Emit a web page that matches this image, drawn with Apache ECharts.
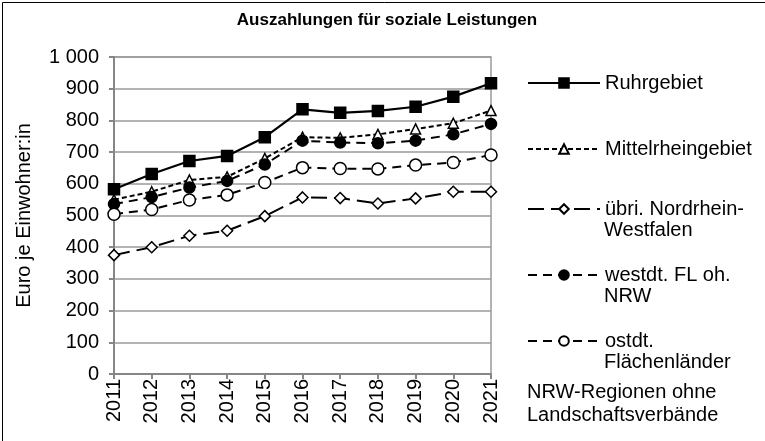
<!DOCTYPE html>
<html><head><meta charset="utf-8">
<script src="https://cdn.jsdelivr.net/npm/echarts@6/dist/echarts.min.js"></script>
<style>html,body{margin:0;padding:0;background:#fff}#c{width:765px;height:441px}</style>
</head><body><div id="c"></div>
<script>
const years = ['2011','2012','2013','2014','2015','2016','2017','2018','2019','2020','2021'];
const ruhr = [583, 631, 672, 688, 747, 835, 824, 830, 843, 875, 917];
const mittel = [550, 575, 612, 622, 680, 747, 745, 756, 773, 791, 831];
const uebri = [375, 400, 436, 452, 498, 557, 555, 538, 554, 575, 575];
const westdt = [536, 558, 588, 609, 661, 736, 730, 728, 736, 756, 789];
const ostdt = [504, 519, 549, 565, 604, 651, 648, 647, 659, 667, 691];
const names = ['Ruhrgebiet','Mittelrheingebiet','übri. Nordrhein-Westfalen','westdt. FL oh. NRW','ostdt. Flächenländer'];
const legendFirst = ['Ruhrgebiet','Mittelrheingebiet','übri. Nordrhein-','westdt. FL oh.','ostdt.'];
const legendSecond = ['', '', 'Westfalen', 'NRW', 'Flächenländer'];
const noteLines = 'NRW-Regionen ohne\nLandschaftsverbände';
const FONT = 'Liberation Sans, Arial, sans-serif';
const FS = 20;

const chart = echarts.init(document.getElementById('c'));
const mk = (name, data, lineType, lw, sym, size, fill) => ({
  name, type: 'line', data,
  lineStyle: {color: '#000', width: lw, type: lineType},
  symbol: sym, symbolSize: size,
  itemStyle: {color: fill, borderColor: '#000', borderWidth: 1.5},
  showAllSymbol: true, animation: false
});
const legendCenters = [83, 149, 209, 275, 341];
const graphics = [];
legendSecond.forEach((t, i) => {
  if (t) graphics.push({type: 'text', left: 604, top: legendCenters[i] + 22 - 11,
    style: {text: t, font: FS + 'px ' + FONT, fill: '#000'}});
});
graphics.push({type: 'text', left: 527, top: 381, style: {text: noteLines, font: FS + 'px ' + FONT, fill: '#000', lineHeight: 23}});
graphics.push({type: 'rect', left: 0, top: 0, shape: {width: 764, height: 440}, style: {fill: 'none', stroke: '#000', lineWidth: 1}, silent: true});

chart.setOption({
  animation: false,
  title: {text: 'Auszahlungen für soziale Leistungen', left: 382, textAlign: 'center', top: 7,
    textStyle: {fontFamily: FONT, fontSize: 17, fontWeight: 'bold', color: '#000'}},
  grid: {left: 114, right: 274, top: 57, bottom: 67, show: true, borderColor: '#9a9a9a', borderWidth: 1.5},
  xAxis: {type: 'category', data: years, boundaryGap: false,
    axisLine: {lineStyle: {color: '#868686', width: 2}},
    axisTick: {show: true, alignWithLabel: true, length: 5, lineStyle: {color: '#868686', width: 2}},
    axisLabel: {rotate: 90, color: '#000', fontFamily: FONT, fontSize: FS, margin: 5, interval: 0}},
  yAxis: {type: 'value', min: 0, max: 1000, interval: 100,
    name: 'Euro je Einwohner:in', nameLocation: 'middle', nameGap: 80,
    nameTextStyle: {fontFamily: FONT, fontSize: FS, color: '#000'},
    axisLine: {show: true, lineStyle: {color: '#868686', width: 2}},
    axisTick: {show: true, length: 5, lineStyle: {color: '#868686', width: 2}},
    splitLine: {lineStyle: {color: '#9a9a9a', width: 1.5}},
    axisLabel: {color: '#000', fontFamily: FONT, fontSize: FS, margin: 15,
      formatter: v => String(v).replace(/\B(?=(\d{3})+(?!\d))/g, ' ')}},
  legend: names.map((n, i) => ({
    data: [n], left: 527, top: legendCenters[i] - 11, orient: 'vertical', padding: 0,
    itemWidth: 72, itemHeight: 12, itemGap: 0,
    formatter: () => legendFirst[i],
    textStyle: {fontFamily: FONT, fontSize: FS, color: '#000', lineHeight: 22}
  })),
  graphic: graphics,
  series: [
    mk(names[0], ruhr, 'solid', 2.2, 'rect', 11, '#000'),
    mk(names[1], mittel, [5, 3], 2, 'triangle', 10, '#fff'),
    mk(names[2], uebri, [16, 7], 2, 'diamond', 11, '#fff'),
    mk(names[3], westdt, [9, 6], 2, 'circle', 11, '#000'),
    mk(names[4], ostdt, [9, 6], 2, 'circle', 12, '#fff')
  ]
});
</script></body></html>
